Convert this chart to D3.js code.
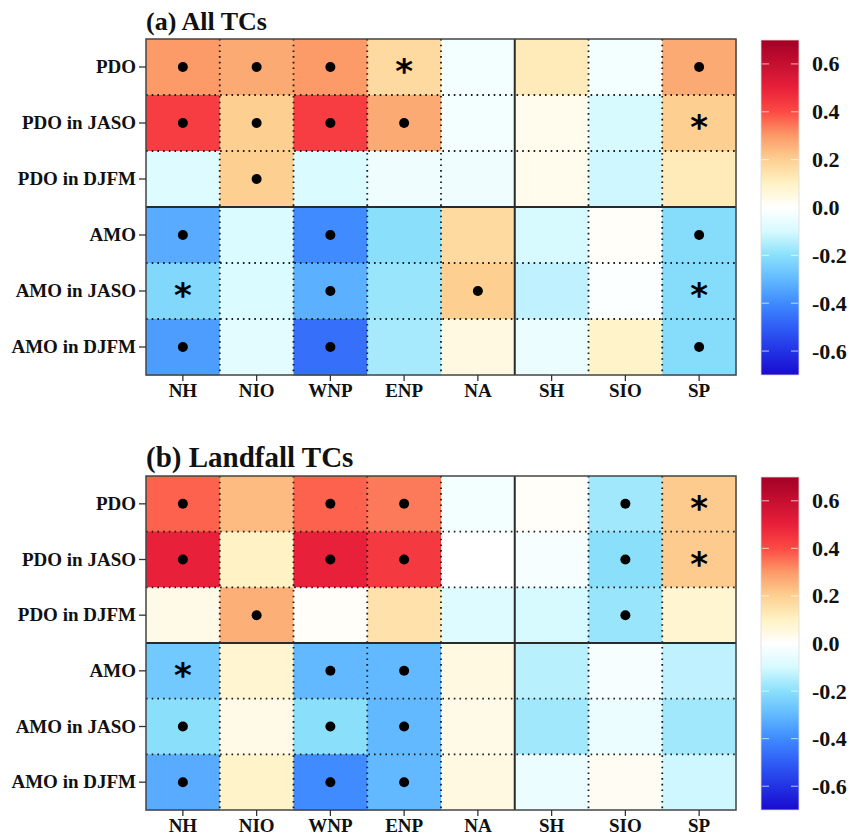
<!DOCTYPE html>
<html>
<head>
<meta charset="utf-8">
<script src="https://cdn.jsdelivr.net/npm/d3@7"></script>
<style>
  body { margin: 0; background: #fff; }
  svg text { font-family: "Liberation Serif", "Times New Roman", serif; font-weight: bold; fill: #111; }
</style>
</head>
<body>
<div id="chart"></div>
<script>
const regions = ["NH", "NIO", "WNP", "ENP", "NA", "SH", "SIO", "SP"];
const indices = ["PDO", "PDO in JASO", "PDO in DJFM", "AMO", "AMO in JASO", "AMO in DJFM"];

// correlation values, rows follow indices, columns follow regions
const allValues = [
  [0.30, 0.27, 0.30, 0.17, -0.03, 0.12, -0.03, 0.27],
  [0.43, 0.20, 0.43, 0.27, -0.03, 0.03, -0.10, 0.20],
  [-0.08, 0.20, -0.09, -0.04, -0.04, 0.03, -0.11, 0.12],
  [-0.33, -0.09, -0.40, -0.20, 0.17, -0.10, 0.01, -0.21],
  [-0.22, -0.09, -0.32, -0.18, 0.20, -0.13, -0.01, -0.21],
  [-0.36, -0.07, -0.46, -0.16, 0.05, -0.05, 0.09, -0.21]
];
// "o" = dot, "*" = asterisk
const allSig = [
  ["o", "o", "o", "*", "", "", "", "o"],
  ["o", "o", "o", "o", "", "", "", "*"],
  ["", "o", "", "", "", "", "", ""],
  ["o", "", "o", "", "", "", "", "o"],
  ["*", "", "o", "", "o", "", "", "*"],
  ["o", "", "o", "", "", "", "", "o"]
];

const landValues = [
  [0.37, 0.24, 0.37, 0.34, -0.03, 0.01, -0.17, 0.21],
  [0.50, 0.10, 0.50, 0.44, 0.00, -0.02, -0.20, 0.21],
  [0.04, 0.26, 0.01, 0.15, -0.08, -0.10, -0.18, 0.08],
  [-0.26, 0.08, -0.30, -0.30, 0.05, -0.14, -0.02, -0.13],
  [-0.20, 0.04, -0.20, -0.30, 0.04, -0.17, -0.05, -0.17],
  [-0.33, 0.09, -0.40, -0.30, 0.05, -0.05, 0.02, -0.11]
];
const landSig = [
  ["o", "", "o", "o", "", "", "o", "*"],
  ["o", "", "o", "o", "", "", "o", "*"],
  ["", "o", "", "", "", "", "o", ""],
  ["*", "", "o", "o", "", "", "", ""],
  ["o", "", "o", "o", "", "", "", ""],
  ["o", "", "o", "o", "", "", "", ""]
];

const colorTicks = [-0.6, -0.4, -0.2, 0.0, 0.2, 0.4, 0.6];

// colormap (blue - white - orange - red)
const cmapStops = [-0.7, -0.6, -0.5, -0.4, -0.3, -0.2, -0.1, 0, 0.1, 0.2, 0.3, 0.4, 0.5, 0.6, 0.7];
const cmapColors = ["#1a0acf", "#2233e4", "#2f5df6", "#3f8bff", "#62b9ff", "#8ae0fb", "#d6faff", "#ffffff",
                    "#fff2c4", "#fdd091", "#fc9a68", "#fd4a44", "#e8203a", "#c50f30", "#a30026"];

const W = 857, H = 837;
const left = 146, right = 736;
const panels = [
  { title: "(a) All TCs", titleSize: 26, top: 39, bottom: 375, values: allValues, sig: allSig },
  { title: "(b) Landfall TCs", titleSize: 29, top: 476, bottom: 810, values: landValues, sig: landSig }
];

const color = d3.scaleLinear().domain(cmapStops).range(cmapColors).interpolate(d3.interpolateRgb).clamp(true);

const svg = d3.select("#chart").append("svg")
  .attr("width", W).attr("height", H)
  .attr("viewBox", `0 0 ${W} ${H}`);

const defs = svg.append("defs");
const grad = defs.append("linearGradient").attr("id", "cbar")
  .attr("x1", 0).attr("y1", 1).attr("x2", 0).attr("y2", 0);
cmapStops.forEach((s, i) => {
  grad.append("stop").attr("offset", (s + 0.7) / 1.4).attr("stop-color", cmapColors[i]);
});

panels.forEach(p => {
  const g = svg.append("g");
  const x = d3.scaleBand().domain(regions).range([left, right]);
  const y = d3.scaleBand().domain(indices).range([p.top, p.bottom]);

  const cells = [];
  p.values.forEach((row, i) => row.forEach((v, j) => {
    cells.push({ r: indices[i], c: regions[j], v: v, s: p.sig[i][j] });
  }));

  g.selectAll("rect.cell").data(cells).enter().append("rect")
    .attr("class", "cell")
    .attr("x", d => x(d.c)).attr("y", d => y(d.r))
    .attr("width", x.bandwidth() + 0.5).attr("height", y.bandwidth() + 0.5)
    .attr("fill", d => color(d.v));

  // dotted inner grid
  regions.slice(1).forEach((c, j) => {
    if (j + 1 === 5) return;
    g.append("line").attr("x1", x(c)).attr("x2", x(c)).attr("y1", p.top).attr("y2", p.bottom)
      .attr("stroke", "#1a1a1a").attr("stroke-width", 1.8).attr("stroke-dasharray", "1.6,4.1");
  });
  indices.slice(1).forEach((r, i) => {
    if (i + 1 === 3) return;
    g.append("line").attr("x1", left).attr("x2", right).attr("y1", y(r)).attr("y2", y(r))
      .attr("stroke", "#1a1a1a").attr("stroke-width", 1.8).attr("stroke-dasharray", "1.6,4.1");
  });
  // solid separators
  g.append("line").attr("x1", x("SH")).attr("x2", x("SH")).attr("y1", p.top).attr("y2", p.bottom)
    .attr("stroke", "#2a2a2a").attr("stroke-width", 2);
  g.append("line").attr("x1", left).attr("x2", right).attr("y1", y("AMO")).attr("y2", y("AMO"))
    .attr("stroke", "#2a2a2a").attr("stroke-width", 2);

  // significance markers
  g.selectAll("circle.sig").data(cells.filter(d => d.s === "o")).enter().append("circle")
    .attr("cx", d => x(d.c) + x.bandwidth() / 2)
    .attr("cy", d => y(d.r) + y.bandwidth() / 2)
    .attr("r", 5).attr("fill", "#000");
  g.selectAll("text.star").data(cells.filter(d => d.s === "*")).enter().append("text")
    .attr("class", "star")
    .attr("x", d => x(d.c) + x.bandwidth() / 2)
    .attr("y", d => y(d.r) + y.bandwidth() / 2 + 16)
    .attr("text-anchor", "middle")
    .style("font-family", "'DejaVu Sans', sans-serif")
    .style("font-size", "34px").style("fill", "#000")
    .text("*");

  g.append("rect").attr("x", left).attr("y", p.top)
    .attr("width", right - left).attr("height", p.bottom - p.top)
    .attr("fill", "none").attr("stroke", "#444").attr("stroke-width", 1.5);

  // axes
  const ax = g.append("g").attr("transform", `translate(0,${p.bottom})`)
    .call(d3.axisBottom(x).tickSize(6).tickPadding(3));
  const ay = g.append("g").attr("transform", `translate(${left},0)`)
    .call(d3.axisLeft(y).tickSize(7).tickPadding(3));
  [ax, ay].forEach(a => {
    a.select(".domain").remove();
    a.selectAll(".tick line").attr("stroke", "#333").attr("stroke-width", 1.3);
    a.selectAll(".tick text").style("font-size", "19px").style("font-family", "'Liberation Serif', serif")
      .style("font-weight", "bold").attr("fill", "#111");
  });

  g.append("text").attr("x", left).attr("y", p.top - 9)
    .style("font-size", p.titleSize + "px").text(p.title);

  // colorbar
  const cbX = 761, cbW = 38;
  const cy = d3.scaleLinear().domain([-0.7, 0.7]).range([p.bottom, p.top + 1]);
  g.append("rect").attr("x", cbX).attr("y", cy(0.7)).attr("width", cbW)
    .attr("height", cy(-0.7) - cy(0.7)).attr("fill", "url(#cbar)")
    .attr("stroke", "#ddd").attr("stroke-width", 0.8);
  const cax = g.append("g").attr("transform", `translate(${cbX + cbW},0)`)
    .call(d3.axisRight(cy).tickValues(colorTicks).tickSize(0).tickPadding(13).tickFormat(v => v.toFixed(1)));
  cax.select(".domain").remove();
  cax.selectAll(".tick text").style("font-size", "22px").style("font-family", "'Liberation Serif', serif")
    .style("font-weight", "bold").attr("fill", "#111");
  colorTicks.forEach(t => {
    g.append("line").attr("x1", cbX + 1).attr("x2", cbX + 8).attr("y1", cy(t)).attr("y2", cy(t))
      .attr("stroke", "#fff").attr("stroke-opacity", 0.7).attr("stroke-width", 1);
    g.append("line").attr("x1", cbX + cbW - 8).attr("x2", cbX + cbW - 1).attr("y1", cy(t)).attr("y2", cy(t))
      .attr("stroke", "#fff").attr("stroke-opacity", 0.7).attr("stroke-width", 1);
  });
});
</script>
</body>
</html>
